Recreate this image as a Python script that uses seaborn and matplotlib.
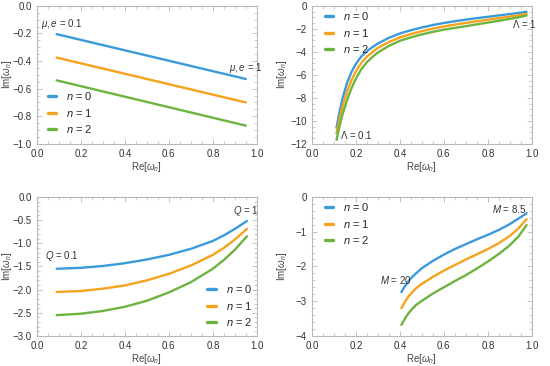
import numpy as np
import pandas as pd
import matplotlib
matplotlib.use('Agg')
import matplotlib.pyplot as plt
import seaborn as sns
from matplotlib.ticker import MultipleLocator, AutoMinorLocator

sns.set_style('white')
plt.rcParams['font.family'] = ['Liberation Sans', 'DejaVu Sans']
plt.rcParams['mathtext.fontset'] = 'custom'
plt.rcParams['mathtext.it'] = 'Liberation Sans:italic'
plt.rcParams['mathtext.rm'] = 'Liberation Sans'

colors = ['#3b9ad9', '#f5a31c', '#6cb33f']
modes = ['$n$ = 0', '$n$ = 1', '$n$ = 2']

# panel a: mu,e from 0.1 to 1
re_a = [0.09, 0.95]
im_a = [[-0.205, -0.530],
        [-0.375, -0.700],
        [-0.540, -0.868]]

# panel b: Lambda from 0.1 to 1
re_b = [0.112, 0.125, 0.14, 0.16, 0.18, 0.20, 0.225, 0.25, 0.279, 0.30, 0.35,
        0.40, 0.45, 0.50, 0.55, 0.60, 0.673, 0.75, 0.855, 0.925, 0.976]
im_b = [[-10.6, -9.3, -8.0, -6.7, -5.75, -5.05, -4.4, -3.95, -3.54, -3.28, -2.78,
         -2.40, -2.12, -1.88, -1.67, -1.49, -1.27, -1.07, -0.82, -0.65, -0.52],
        [-11.07, -9.9, -8.7, -7.45, -6.47, -5.69, -4.95, -4.42, -3.96, -3.66, -3.14,
         -2.75, -2.45, -2.20, -1.98, -1.79, -1.56, -1.34, -1.05, -0.86, -0.70],
        [-11.65, -10.5, -9.4, -8.2, -7.17, -6.33, -5.5, -4.9, -4.38, -4.06, -3.48,
         -3.04, -2.74, -2.48, -2.26, -2.07, -1.85, -1.61, -1.28, -1.05, -0.84]]

# panel c: Q from 0.1 to 1
re_c = [0.09, 0.20, 0.30, 0.40, 0.50, 0.60, 0.70, 0.80, 0.85, 0.90, 0.955]
im_c = [[-1.55, -1.53, -1.49, -1.43, -1.35, -1.25, -1.12, -0.95, -0.83, -0.69, -0.52],
        [-2.05, -2.03, -1.98, -1.91, -1.80, -1.66, -1.48, -1.25, -1.10, -0.92, -0.69],
        [-2.55, -2.52, -2.46, -2.37, -2.24, -2.06, -1.84, -1.55, -1.36, -1.14, -0.85]]

# panel d: M from 20 to 8.5
re_d = [0.407, 0.415, 0.425, 0.44, 0.455, 0.475, 0.50, 0.55, 0.60, 0.65, 0.70, 0.75,
        0.80, 0.85, 0.90, 0.94, 0.976]
im_d = [[-2.74, -2.65, -2.55, -2.42, -2.31, -2.19, -2.05, -1.84, -1.66, -1.50, -1.36, -1.22,
         -1.09, -0.95, -0.78, -0.62, -0.47],
        [-3.20, -3.11, -3.00, -2.86, -2.75, -2.62, -2.50, -2.30, -2.12, -1.96, -1.80, -1.65,
         -1.50, -1.33, -1.12, -0.90, -0.64],
        [-3.68, -3.59, -3.48, -3.34, -3.23, -3.10, -2.99, -2.78, -2.60, -2.42, -2.25, -2.06,
         -1.86, -1.64, -1.39, -1.13, -0.81]]


def long_df(re, im):
    rows = []
    for k, name in enumerate(modes):
        for x, y in zip(re, im[k]):
            rows.append({'re': x, 'im': y, 'n': name})
    return pd.DataFrame(rows)


def style_axes(ax, ylim, ymajor, yminor_n, yfmt):
    ax.set_xlim(0, 1)
    ax.set_ylim(*ylim)
    ax.xaxis.set_major_locator(MultipleLocator(0.2))
    ax.xaxis.set_minor_locator(AutoMinorLocator(4))
    ax.yaxis.set_major_locator(MultipleLocator(ymajor))
    ax.yaxis.set_minor_locator(AutoMinorLocator(yminor_n))
    ax.yaxis.set_major_formatter(plt.FuncFormatter(lambda v, p: (yfmt % v).replace('-', '\u2212')))
    ax.xaxis.set_major_formatter(plt.FuncFormatter(lambda v, p: '%.1f' % v))
    for s in ax.spines.values():
        s.set_color('#b8b8b8')
        s.set_linewidth(0.8)
    ax.tick_params(which='both', direction='in', colors='#b8b8b8', labelcolor='#333333',
                   labelsize=7, top=True, right=True, bottom=True, left=True)
    ax.tick_params(which='major', length=3.5, width=0.6)
    ax.tick_params(which='minor', length=2, width=0.5)
    ax.set_xlabel('Re[$\\omega_n$]', fontsize=7, color='#444444')
    ax.set_ylabel('Im[$\\omega_n$]', fontsize=7, color='#444444')
    ax.xaxis.set_label_coords(0.5, -0.115)
    ax.yaxis.set_label_coords(-0.105, 0.5)


def legend(ax, loc, anchor):
    ax.legend(loc=loc, bbox_to_anchor=anchor, frameon=False, fontsize=8,
              handlelength=0.75, handletextpad=0.9, labelspacing=0.4, borderaxespad=0)
    for h in ax.get_legend().legend_handles:
        h.set_linewidth(2.4)


fig = plt.figure(figsize=(5.5, 3.66), dpi=100)
ax1 = fig.add_axes([0.067, 0.607, 0.400, 0.377])
ax2 = fig.add_axes([0.567, 0.607, 0.400, 0.377])
ax3 = fig.add_axes([0.067, 0.082, 0.400, 0.380])
ax4 = fig.add_axes([0.567, 0.082, 0.400, 0.380])

for ax, re, im in [(ax1, re_a, im_a), (ax2, re_b, im_b), (ax3, re_c, im_c), (ax4, re_d, im_d)]:
    sns.lineplot(data=long_df(re, im), x='re', y='im', hue='n', palette=colors,
                 linewidth=1.7, ax=ax, sort=False)

style_axes(ax1, (-1.0, 0.0), 0.2, 4, '%.1f')
style_axes(ax2, (-12, 0), 2, 4, '%d')
style_axes(ax3, (-3.0, 0.0), 0.5, 5, '%.1f')
style_axes(ax4, (-4, 0), 1, 5, '%d')

legend(ax1, 'lower left', (0.03, 0.03))
legend(ax2, 'upper left', (0.04, 1.0))
legend(ax3, 'lower right', (1.0, 0.025))
legend(ax4, 'upper left', (0.04, 1.0))

tk = dict(fontsize=7, color='#333333', ha='left', va='center')
ax1.text(0.02, -0.13, '$\\mu,e$ = 0.1', **tk)
ax1.text(0.875, -0.45, '$\\mu,e$ = 1', **tk)
ax2.text(0.91, -1.6, '$\\Lambda$ = 1', **tk)
ax2.text(0.13, -11.2, '$\\Lambda$ = 0.1', **tk)
ax3.text(0.035, -1.27, '$Q$ = 0.1', **tk)
ax3.text(0.89, -0.3, '$Q$ = 1', **tk)
ax4.text(0.31, -2.39, '$M$ = 20', **tk)
ax4.text(0.82, -0.35, '$M$ = 8.5', **tk)

fig.savefig('out.png', dpi=100)
